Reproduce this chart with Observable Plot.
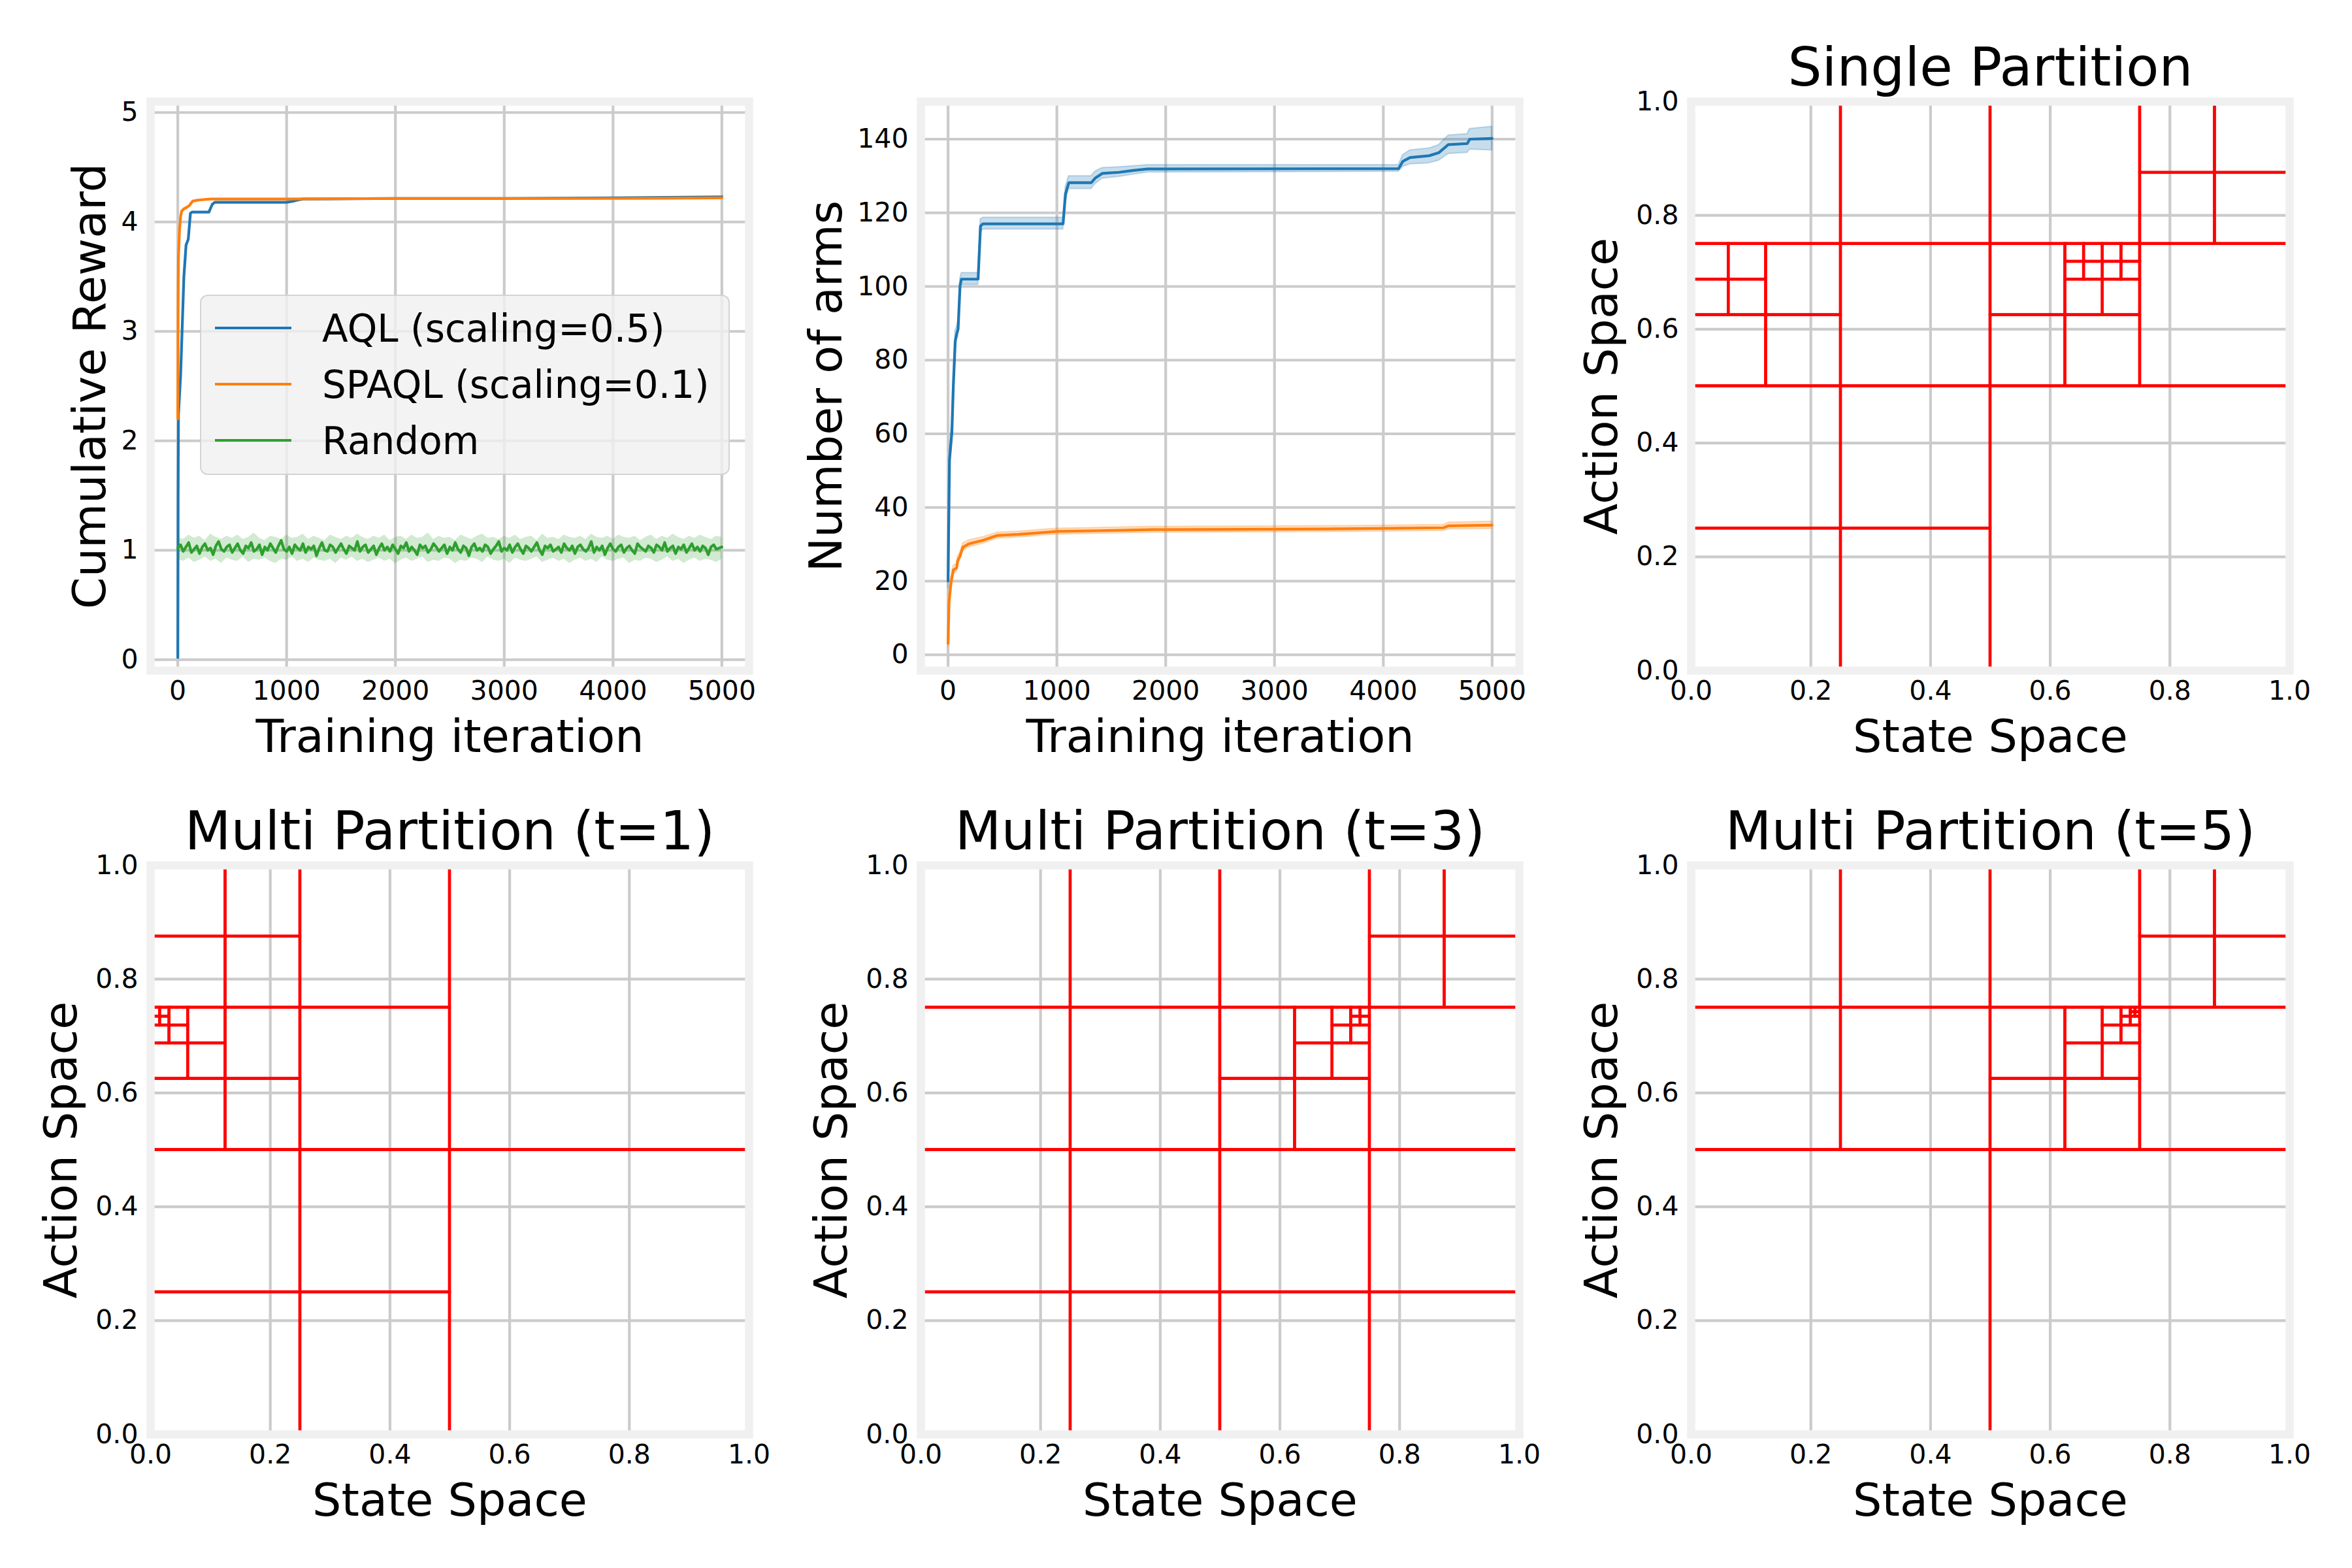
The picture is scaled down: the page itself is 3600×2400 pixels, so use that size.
<!DOCTYPE html>
<html>
<head>
<meta charset="utf-8">
<script src="https://cdn.jsdelivr.net/npm/d3@7"></script>
<script src="https://cdn.jsdelivr.net/npm/@observablehq/plot@0.6"></script>
<style>
  html, body { margin: 0; padding: 0; background: #ffffff; }
  #fig { position: relative; width: 3600px; height: 2400px; background: #ffffff; overflow: hidden;
         font-family: "DejaVu Sans", sans-serif; color: #000; }
  .panel { position: absolute; }
  .legend { position: absolute; box-sizing: border-box; background: rgba(240,240,240,0.8);
            border: 2px solid rgba(204,204,204,0.8); border-radius: 12px; }
  .legend .handle { position: absolute; height: 4.2px; }
  .legend .label { position: absolute; font-size: 58px; line-height: 58px; white-space: nowrap; color: #000; }
</style>
</head>
<body>
<div id="fig"></div>
<script>
// ---------------- DATA ----------------
const iterTicks = [0, 1000, 2000, 3000, 4000, 5000];
const rewardTicks = [0, 1, 2, 3, 4, 5];
const armsTicks = [0, 20, 40, 60, 80, 100, 120, 140];
const unitTicks = [0, 0.2, 0.4, 0.6, 0.8, 1.0];

const seriesNames = ["AQL (scaling=0.5)", "SPAQL (scaling=0.1)", "Random"];
const seriesColors = ["#1f77b4", "#ff7f0e", "#2ca02c"];

// Cumulative reward
const aqlRewardIter = [0, 3, 6, 26, 56, 76, 96, 116, 130, 286, 316, 340, 600, 1000, 1060, 1100, 1150, 2000, 3000, 4000, 4500, 5000];
const aqlReward     = [0.02, 1.5, 2.24, 2.6, 3.5, 3.79, 3.84, 4.08, 4.09, 4.09, 4.16, 4.18, 4.18, 4.18, 4.19, 4.2, 4.21, 4.215, 4.215, 4.22, 4.225, 4.23];
const spaqlRewardIter = [0, 3, 6, 16, 26, 36, 56, 76, 106, 136, 186, 300, 1000, 2000, 3000, 4000, 5000];
const spaqlReward     = [2.2, 3.3, 3.68, 3.93, 4.05, 4.1, 4.12, 4.13, 4.15, 4.19, 4.2, 4.21, 4.21, 4.215, 4.215, 4.215, 4.22];
const randomReward = [
  1.02,1.05,0.99,1.03,1.07,0.98,1.01,1.04,0.97,1.03,1.06,1.00,1.02,0.96,1.04,1.08,1.01,0.99,1.03,1.05,
  0.98,1.02,1.06,1.00,0.97,1.04,1.02,1.07,0.99,1.01,1.05,0.96,1.03,1.00,1.06,1.02,0.98,1.04,1.09,1.01,
  0.99,1.03,0.97,1.05,1.02,1.00,1.06,0.98,1.03,1.01,1.04,0.95,1.02,1.07,1.00,0.99,1.05,1.03,0.98,1.02,
  1.06,1.01,0.97,1.04,1.02,1.00,1.08,0.99,1.03,1.05,0.98,1.01,1.04,0.96,1.02,1.06,1.00,1.03,0.99,1.05,
  1.01,0.97,1.04,1.02,1.07,0.99,1.03,1.00,0.96,1.05,1.02,1.04,0.98,1.01,1.06,1.03,0.99,1.02,1.05,0.97,
  1.03,1.00,1.07,1.01,0.98,1.04,1.02,0.95,1.03,1.06,1.00,1.02,0.99,1.05,1.03,0.97,1.01,1.04,1.08,0.99,
  1.02,1.00,1.05,0.98,1.03,1.06,1.01,0.97,1.04,1.02,0.99,1.03,1.07,1.00,0.96,1.04,1.02,1.05,0.99,1.01,
  1.03,0.98,1.06,1.02,1.00,1.04,0.97,1.03,1.05,1.01,0.99,1.02,1.08,0.98,1.03,1.00,1.04,0.96,1.02,1.06,
  1.01,0.99,1.03,1.05,0.98,1.02,1.04,1.00,0.97,1.06,1.03,1.01,0.99,1.04,1.02,0.98,1.05,1.03,1.00,1.07,
  0.99,1.02,1.04,0.97,1.03,1.01,1.05,0.98,1.02,1.06,1.00,1.03,0.99,1.04,1.02,0.96,1.03,1.05,1.01,1.02,
  1.03
];
const randomRewardHi = [
  1.12,1.10,1.14,1.11,1.13,1.09,1.15,1.12,1.10,1.13,1.11,1.14,1.10,1.12,1.16,1.11,1.09,1.13,1.12,1.10,
  1.14,1.11,1.12,1.15,1.10,1.13,1.11,1.09,1.14,1.12,1.10,1.13,1.11,1.15,1.12,1.10,1.13,1.11,1.14,1.09,
  1.12,1.13,1.10,1.14,1.11,1.12,1.16,1.10,1.13,1.11,1.12,1.09,1.14,1.12,1.10,1.13,1.15,1.11,1.12,1.10,
  1.13,1.11,1.14,1.10,1.12,1.13,1.09,1.15,1.11,1.12,1.10,1.14,1.12,1.11,1.13,1.10,1.15,1.12,1.11,1.13,
  1.10,1.14,1.12,1.11,1.13,1.09,1.12,1.14,1.10,1.13,1.11,1.15,1.12,1.10,1.13,1.11,1.14,1.12,1.10,1.13,
  1.12
];
const randomRewardLo = [
  0.92,0.90,0.93,0.89,0.91,0.94,0.90,0.92,0.88,0.93,0.91,0.90,0.94,0.89,0.92,0.91,0.93,0.90,0.88,0.92,
  0.91,0.94,0.90,0.92,0.89,0.93,0.91,0.90,0.92,0.88,0.93,0.91,0.94,0.90,0.92,0.89,0.91,0.93,0.90,0.92,
  0.88,0.91,0.93,0.90,0.92,0.94,0.89,0.91,0.90,0.93,0.92,0.88,0.91,0.90,0.93,0.92,0.89,0.94,0.91,0.90,
  0.92,0.88,0.93,0.91,0.90,0.92,0.94,0.89,0.91,0.93,0.90,0.92,0.88,0.91,0.93,0.90,0.92,0.89,0.94,0.91,
  0.90,0.92,0.93,0.88,0.91,0.90,0.93,0.92,0.89,0.91,0.94,0.90,0.92,0.88,0.91,0.93,0.90,0.92,0.91,0.89,
  0.92
];

// Number of arms
const aqlArmsIter = [0, 13, 35, 48, 66, 79, 92, 110, 123, 276, 298, 320, 1057, 1079, 1110, 1316, 1351, 1417, 1570, 1702, 1833, 4140, 4180, 4246, 4421, 4509, 4597, 4772, 4794, 5000];
const aqlArms     = [20, 52.9, 60.4, 72.8, 85.2, 87.1, 88.4, 100.2, 102, 102, 116.4, 117, 117, 125.1, 128.2, 128.2, 129.4, 130.7, 131, 131.5, 131.9, 132, 134, 135, 135.5, 136.3, 138.5, 138.8, 140, 140.2];
const aqlArmsLo   = [18, 50, 57.5, 70, 82.5, 85.5, 86.5, 98.5, 100.5, 100.5, 114.5, 115.5, 115.5, 123, 126.5, 126.5, 127.8, 129.3, 129.8, 130.4, 131, 131.2, 132.5, 133.2, 133.5, 134.2, 136, 136.3, 137.2, 137];
const aqlArmsHi   = [22, 56, 63.5, 75.5, 88, 89, 90.5, 102, 103.7, 103.7, 118.3, 118.7, 118.7, 127, 130, 130, 131.2, 132.2, 132.4, 132.7, 133, 133, 135.7, 137, 137.5, 138.4, 141, 141.4, 142.8, 143.4];
const spaqlArmsIter = [0, 9, 26, 48, 79, 88, 110, 136, 189, 320, 452, 649, 868, 1000, 1395, 1877, 3632, 4553, 4597, 5000];
const spaqlArms     = [3.1, 14.3, 19.3, 23.0, 23.6, 25.5, 26.8, 29.2, 30.1, 31.1, 32.4, 32.7, 33.2, 33.5, 33.7, 34.0, 34.2, 34.5, 35.0, 35.2];
const spaqlArmsLo   = [2, 12.5, 17.8, 21.8, 22.6, 24.3, 25.8, 28.2, 29.2, 30.2, 31.6, 31.9, 32.4, 32.7, 32.9, 33.2, 33.4, 33.7, 34.1, 34.2];
const spaqlArmsHi   = [4.5, 16, 20.8, 24.2, 24.7, 26.7, 27.9, 30.3, 31.1, 32.0, 33.2, 33.5, 34.0, 34.3, 34.5, 34.8, 35.0, 35.3, 35.9, 36.2];

// Partition cells: [state0, state1, action0, action1]
const singlePartition = [
  [0,.25,0,.25],[.25,.5,0,.25],[0,.25,.25,.5],[.25,.5,.25,.5],
  [.5,1,0,.5],
  [0,.125,.5,.625],[.125,.25,.5,.625],[.125,.25,.625,.75],
  [0,.0625,.625,.6875],[.0625,.125,.625,.6875],[0,.0625,.6875,.75],[.0625,.125,.6875,.75],
  [.25,.5,.5,.75],[0,.25,.75,1],[.25,.5,.75,1],
  [.5,.625,.5,.625],[.625,.75,.5,.625],[.5,.625,.625,.75],
  [.625,.6875,.625,.6875],[.6875,.75,.625,.6875],
  [.625,.65625,.6875,.71875],[.65625,.6875,.6875,.71875],[.625,.65625,.71875,.75],[.65625,.6875,.71875,.75],
  [.6875,.71875,.6875,.71875],[.71875,.75,.6875,.71875],[.6875,.71875,.71875,.75],[.71875,.75,.71875,.75],
  [.75,1,.5,.75],[.5,.75,.75,1],
  [.75,.875,.75,.875],[.875,1,.75,.875],[.75,.875,.875,1],[.875,1,.875,1]
];
const multiPartitionT1 = [
  [0,.25,0,.25],[.25,.5,0,.25],[0,.25,.25,.5],[.25,.5,.25,.5],
  [.5,1,0,.5],[.5,1,.5,1],
  [.25,.5,.5,.75],[.25,.5,.75,1],
  [0,.125,.75,.875],[.125,.25,.75,.875],[0,.125,.875,1],[.125,.25,.875,1],
  [0,.125,.5,.625],[.125,.25,.5,.625],[.125,.25,.625,.75],
  [0,.0625,.625,.6875],[.0625,.125,.625,.6875],[.0625,.125,.6875,.75],
  [0,.03125,.6875,.71875],[.03125,.0625,.6875,.71875],[.03125,.0625,.71875,.75],
  [0,.015625,.71875,.734375],[.015625,.03125,.71875,.734375],[0,.015625,.734375,.75],[.015625,.03125,.734375,.75]
];
const multiPartitionT3 = [
  [0,.25,0,.25],[.25,.5,0,.25],[0,.25,.25,.5],[.25,.5,.25,.5],
  [.5,.75,0,.25],[.75,1,0,.25],[.5,.75,.25,.5],[.75,1,.25,.5],
  [0,.25,.5,.75],[.25,.5,.5,.75],[0,.25,.75,1],[.25,.5,.75,1],
  [.75,1,.5,.75],[.5,.75,.75,1],
  [.75,.875,.75,.875],[.875,1,.75,.875],[.75,.875,.875,1],[.875,1,.875,1],
  [.5,.625,.5,.625],[.625,.75,.5,.625],[.5,.625,.625,.75],
  [.625,.6875,.625,.6875],[.6875,.75,.625,.6875],[.625,.6875,.6875,.75],
  [.6875,.71875,.6875,.71875],[.71875,.75,.6875,.71875],[.6875,.71875,.71875,.75],
  [.71875,.734375,.71875,.734375],[.734375,.75,.71875,.734375],[.71875,.734375,.734375,.75],[.734375,.75,.734375,.75]
];
const multiPartitionT5 = [
  [0,.5,0,.5],[.5,1,0,.5],
  [0,.25,.5,.75],[.25,.5,.5,.75],[0,.25,.75,1],[.25,.5,.75,1],
  [.75,1,.5,.75],[.5,.75,.75,1],
  [.75,.875,.75,.875],[.875,1,.75,.875],[.75,.875,.875,1],[.875,1,.875,1],
  [.5,.625,.5,.625],[.625,.75,.5,.625],[.5,.625,.625,.75],
  [.625,.6875,.625,.6875],[.6875,.75,.625,.6875],[.625,.6875,.6875,.75],
  [.6875,.71875,.6875,.71875],[.71875,.75,.6875,.71875],[.6875,.71875,.71875,.75],
  [.71875,.734375,.71875,.734375],[.734375,.75,.71875,.734375],[.71875,.734375,.734375,.75],
  [.734375,.7421875,.734375,.7421875],[.7421875,.75,.734375,.7421875],[.734375,.7421875,.7421875,.75],[.7421875,.75,.7421875,.75]
];

// ---------------- TABLES ----------------
const tbl = (xs, ys, lo, hi) => xs.map((x, i) => ({x, y: ys[i], lo: lo ? lo[i] : null, hi: hi ? hi[i] : null}));
const rewardAQL = tbl(aqlRewardIter, aqlReward);
const rewardSPAQL = tbl(spaqlRewardIter, spaqlReward);
const rewardRandom = randomReward.map((y, i) => ({x: i * 5000 / (randomReward.length - 1), y}));
const rewardRandomBand = randomRewardLo.map((lo, i) => ({x: i * 5000 / (randomRewardLo.length - 1), lo, hi: randomRewardHi[i]}));
const armsAQL = tbl(aqlArmsIter, aqlArms, aqlArmsLo, aqlArmsHi);
const armsSPAQL = tbl(spaqlArmsIter, spaqlArms, spaqlArmsLo, spaqlArmsHi);

// ---------------- LAYOUT ----------------
const FONT = "DejaVu Sans";
const BOX_W = 916, BOX_H = 871;
const colLeft = [230, 1409, 2588];
const rowTop = [155, 1324];
const M = {left: 220, right: 60, top: 130, bottom: 160};
const fig = document.getElementById("fig");

function panel({col, row, xDomain, xTicks, xFormat, yDomain, yTicks, yFormat, marks, xLabel, yLabel, yLabelDx, title}) {
  const chart = Plot.plot({
    width: BOX_W + M.left + M.right,
    height: BOX_H + M.top + M.bottom,
    marginLeft: M.left, marginRight: M.right, marginTop: M.top, marginBottom: M.bottom,
    style: `background:transparent;overflow:visible;max-width:none;font-family:'${FONT}';color:#000;`,
    x: {domain: xDomain},
    y: {domain: yDomain},
    marks: [
      Plot.gridX(xTicks, {stroke: "#cbcbcb", strokeOpacity: 1, strokeWidth: 4.2}),
      Plot.gridY(yTicks, {stroke: "#cbcbcb", strokeOpacity: 1, strokeWidth: 4.2}),
      ...marks,
      Plot.frame({stroke: "#f0f0f0", strokeWidth: 12.5}),
      Plot.axisX(xTicks, {tickSize: 0, tickPadding: 15, fontSize: 41, tickFormat: xFormat, label: null}),
      Plot.axisY(yTicks, {tickSize: 0, tickPadding: 19, fontSize: 41, tickFormat: yFormat, label: null}),
      Plot.text([xLabel], {text: d => d, frameAnchor: "bottom", dy: 124, textAnchor: "middle", lineAnchor: "bottom", fontSize: 70}),
      Plot.text([yLabel], {text: d => d, frameAnchor: "left", dx: yLabelDx, rotate: -90, textAnchor: "middle", lineAnchor: "bottom", fontSize: 70}),
      title ? Plot.text([title], {text: d => d, frameAnchor: "top", dy: -25, textAnchor: "middle", lineAnchor: "bottom", fontSize: 82}) : null
    ]
  });
  const div = document.createElement("div");
  div.className = "panel";
  div.style.left = (colLeft[col] - M.left) + "px";
  div.style.top = (rowTop[row] - M.top) + "px";
  div.appendChild(chart);
  fig.appendChild(div);
}

const iterDomain = [-250, 5250];
const lw = 4.2;

// Panel 1: cumulative reward
panel({
  col: 0, row: 0,
  xDomain: iterDomain, xTicks: iterTicks, xFormat: d => String(d),
  yDomain: [-0.1, 5.1], yTicks: rewardTicks, yFormat: d => String(d),
  xLabel: "Training iteration", yLabel: "Cumulative Reward", yLabelDx: -70,
  marks: [
    Plot.line(rewardAQL, {x: "x", y: "y", stroke: seriesColors[0], strokeWidth: lw}),
    Plot.line(rewardSPAQL, {x: "x", y: "y", stroke: seriesColors[1], strokeWidth: lw}),
    Plot.areaY(rewardRandomBand, {x: "x", y1: "lo", y2: "hi", fill: seriesColors[2], fillOpacity: 0.22}),
    Plot.line(rewardRandom, {x: "x", y: "y", stroke: seriesColors[2], strokeWidth: lw})
  ]
});

// Panel 2: number of arms
panel({
  col: 1, row: 0,
  xDomain: iterDomain, xTicks: iterTicks, xFormat: d => String(d),
  yDomain: [-4.3, 150.2], yTicks: armsTicks, yFormat: d => String(d),
  xLabel: "Training iteration", yLabel: "Number of arms", yLabelDx: -122,
  marks: [
    Plot.areaY(armsAQL, {x: "x", y1: "lo", y2: "hi", fill: seriesColors[0], fillOpacity: 0.25, stroke: seriesColors[0], strokeOpacity: 0.25, strokeWidth: 2}),
    Plot.line(armsAQL, {x: "x", y: "y", stroke: seriesColors[0], strokeWidth: lw}),
    Plot.areaY(armsSPAQL, {x: "x", y1: "lo", y2: "hi", fill: seriesColors[1], fillOpacity: 0.25, stroke: seriesColors[1], strokeOpacity: 0.25, strokeWidth: 2}),
    Plot.line(armsSPAQL, {x: "x", y: "y", stroke: seriesColors[1], strokeWidth: lw})
  ]
});

// Partition panels
const fmt1 = d3.format(".1f");
const partitions = [
  {col: 2, row: 0, title: "Single Partition", cells: singlePartition},
  {col: 0, row: 1, title: "Multi Partition (t=1)", cells: multiPartitionT1},
  {col: 1, row: 1, title: "Multi Partition (t=3)", cells: multiPartitionT3},
  {col: 2, row: 1, title: "Multi Partition (t=5)", cells: multiPartitionT5}
];
for (const p of partitions) {
  panel({
    col: p.col, row: p.row,
    xDomain: [0, 1], xTicks: unitTicks, xFormat: fmt1,
    yDomain: [0, 1], yTicks: unitTicks, yFormat: fmt1,
    xLabel: "State Space", yLabel: "Action Space", yLabelDx: -114, title: p.title,
    marks: [
      Plot.rect(p.cells, {x1: d => d[0], x2: d => d[1], y1: d => d[2], y2: d => d[3], fill: "none", stroke: "red", strokeWidth: 4.4})
    ]
  });
}

// Legend (inside panel 1)
const legend = document.createElement("div");
legend.className = "legend";
Object.assign(legend.style, {left: "306px", top: "451px", width: "811px", height: "276px"});
seriesNames.forEach((name, i) => {
  const cy = 49 + i * 86;
  const h = document.createElement("div");
  h.className = "handle";
  Object.assign(h.style, {left: "21px", top: (cy - 2.1) + "px", width: "117px", background: seriesColors[i]});
  const t = document.createElement("div");
  t.className = "label";
  Object.assign(t.style, {left: "185px", top: (cy - 28) + "px"});
  t.textContent = name;
  legend.appendChild(h);
  legend.appendChild(t);
});
fig.appendChild(legend);
</script>
</body>
</html>
